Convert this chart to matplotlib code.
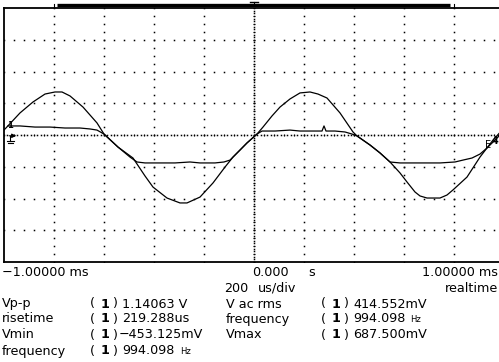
import numpy as np
import matplotlib
matplotlib.use("Agg")
import matplotlib.pyplot as plt

# time base: 200 us/div, 10 div, centre at 0
US_PER_DIV = 200
MV_PER_DIV = 200

# sine trace (time in us, level in mV)
t_sine = [-1000, -936, -884, -836, -796, -768, -736, -684, -628, -600, -544, -484,
          -436, -404, -348, -296, -268, -216, -164, -116, -84, -28, 12, 36, 72, 104,
          144, 184, 224, 256, 292, 344, 396, 412, 464, 504, 544, 584, 612, 644, 664,
          692, 744, 772, 796, 852, 904, 956, 1000]
v_sine = [31, 139, 208, 258, 271, 271, 246, 176, 76, 6, -76, -145,
          -258, -328, -397, -428, -428, -391, -302, -202, -139, -50, 6, 50, 120, 176,
          227, 265, 271, 258, 233, 139, 19, -6, -63, -113, -170, -239, -296, -359, -384,
          -397, -397, -378, -346, -265, -139, -32, 44]

# clipped trace
t_clip = [-984, -936, -876, -816, -756, -696, -656, -628, -600, -544, -496, -468,
          -436, -376, -316, -256, -216, -156, -120, -96, -56, -28, 12, 32, 84, 144,
          184, 236, 272, 280, 288, 324, 364, 392, 412, 464, 504, 544, 584, 664, 744,
          804, 836, 872, 904, 932, 964, 1000]
v_clip = [57, 57, 50, 50, 44, 44, 38, 31, 6, -76, -139, -170,
          -176, -176, -176, -170, -176, -176, -170, -158, -95, -50, 6, 25, 25, 31,
          25, 25, 25, 57, 25, 25, 19, 6, -6, -63, -113, -170, -176, -176, -176,
          -170, -158, -145, -120, -82, -32, 25]

# measurement readout
left_names = ["Vp-p", "risetime", "Vmin", "frequency"]
left_vals = ["1.14063 V", "219.288us", "\u2212453.125mV", "994.098"]
right_names = ["V ac rms", "frequency", "Vmax"]
right_vals = ["414.552mV", "994.098", "687.500mV"]

W, H = 499, 362
fig = plt.figure(figsize=(W / 100, H / 100), dpi=100)
fig.patch.set_facecolor("white")


def fx(x):
    return x / W


def fy(y):
    return 1 - y / H


# screen area: x 4..504 px, y 8..262 px
ax = fig.add_axes([fx(4), fy(262), 500 / W, 254 / H])
ax.set_xlim(-5 * US_PER_DIV, 5 * US_PER_DIV)
ax.set_ylim(-4 * MV_PER_DIV, 4 * MV_PER_DIV)
ax.set_xticks([])
ax.set_yticks([])
for s in ax.spines.values():
    s.set_linewidth(1.3)
    s.set_color("black")

dot = dict(ls="none", marker="s", ms=1.1, mew=0, color="black")

# graticule dots
for k in range(-4, 5):
    if k == 0:
        continue
    ys = np.arange(-4, 4.01, 0.25) * MV_PER_DIV
    ax.plot([k * US_PER_DIV] * len(ys), ys, **dot)
for k in range(-3, 4):
    if k == 0:
        continue
    xs = np.arange(-5, 5.01, 0.2) * US_PER_DIV
    ax.plot(xs, [k * MV_PER_DIV] * len(xs), **dot)

# centre axes, denser dotting with small ticks
xs = np.arange(-5, 5.01, 0.0667) * US_PER_DIV
ax.plot(xs, [0] * len(xs), **dot)
xs = np.arange(-5, 5.01, 0.2) * US_PER_DIV
ax.plot(xs, [0] * len(xs), ls="none", marker="|", ms=1.8, mew=0.6, color="black")
ys = np.arange(-4, 4.01, 0.0833) * MV_PER_DIV
ax.plot([0] * len(ys), ys, **dot)
ys = np.arange(-4, 4.01, 0.25) * MV_PER_DIV
ax.plot([0] * len(ys), ys, ls="none", marker="_", ms=1.8, mew=0.6, color="black")

# traces
ax.plot(t_sine, v_sine, color="black", lw=0.9)
ax.plot(t_clip, v_clip, color="black", lw=0.9)

# record-length bar above screen
top = 4 * MV_PER_DIV
ax.plot([-790, 785], [top + 16, top + 16], color="black", lw=2.4, clip_on=False,
        solid_capstyle="butt")
ax.plot([-800, -800], [top + 8, top + 28], color="black", lw=0.8, clip_on=False)
ax.plot([800, 800], [top + 8, top + 28], color="black", lw=0.8, clip_on=False)
ax.plot([-16, 16], [top + 38, top + 38], color="black", lw=1.0, clip_on=False)
ax.plot([0, 0], [top + 38, top + 20], color="black", lw=0.8, clip_on=False)

# channel / trigger markers
ax.text(-975, 60, "1", fontsize=6, fontweight="bold", ha="center", va="center")
ax.annotate("", xy=(-940, -5), xytext=(-990, -5),
            arrowprops=dict(arrowstyle="-|>", lw=0.8, color="black", mutation_scale=6))
ax.plot([-975, -975], [-5, -40], color="black", lw=0.8)
ax.plot([-990, -960], [-40, -40], color="black", lw=0.8)
ax.plot([-984, -966], [-52, -52], color="black", lw=0.8)
ax.text(935, -60, "E", fontsize=7, ha="center", va="center")
ax.text(965, -35, "4", fontsize=7, fontweight="bold", ha="center", va="center")

font = dict(family="DejaVu Sans", fontsize=9.2, va="center", color="black")


def put(x, y, s, ha="left", **kw):
    d = dict(font)
    d.update(kw)
    fig.text(fx(x), fy(y), s, ha=ha, **d)


put(2, 272, "\u22121.00000 ms")
put(252, 272, "0.000")
put(308, 272, "s")
put(498, 272, "1.00000 ms", ha="right")
put(248, 288, "200", ha="right")
put(258, 288, "us/div")
put(498, 288, "realtime", ha="right")

rows_y = [304, 319, 335, 351]
for y, n, v in zip(rows_y, left_names, left_vals):
    put(2, y, n)
    put(90, y, "(")
    put(101, y, "1", fontweight="bold")
    put(112, y, ")")
    put(119 if v.startswith("\u2212") else 122, y, v)
for y, n, v in zip(rows_y, right_names, right_vals):
    put(226, y, n)
    put(321, y, "(")
    put(332, y, "1", fontweight="bold")
    put(343, y, ")")
    put(353, y, v)
put(180, rows_y[3] + 1, "Hz", fontsize=6)
put(410, rows_y[1] + 1, "Hz", fontsize=6)

fig.savefig("out.png", dpi=100, facecolor="white")
